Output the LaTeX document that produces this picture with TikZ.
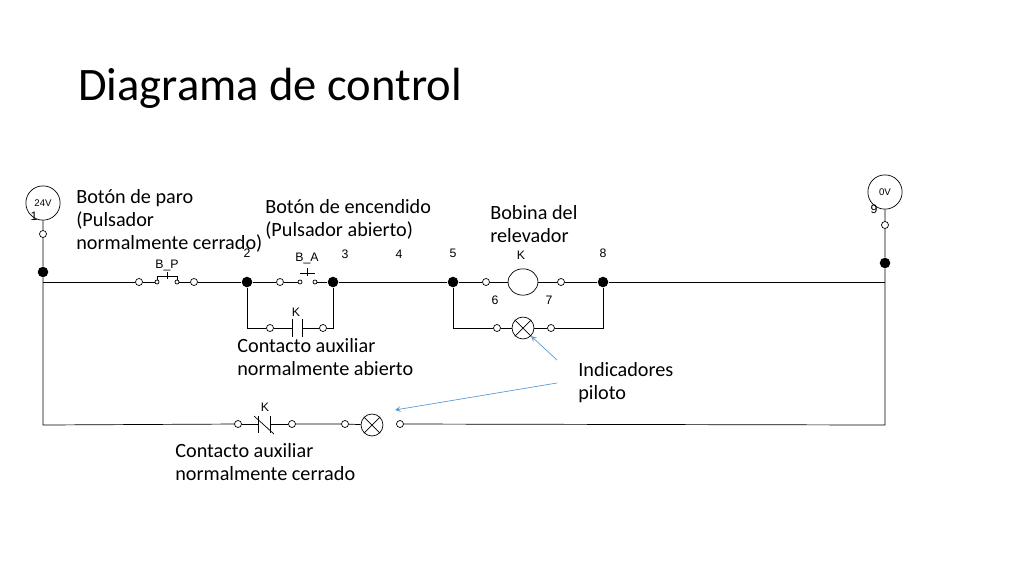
\documentclass[tikz,border=0pt]{standalone}
\usepackage{fontspec}
\setmainfont{Carlito}
\newfontfamily\numfont{Liberation Sans}
\usetikzlibrary{shapes, positioning}

\begin{document}
\begin{tikzpicture}[x=0.02cm, y=-0.02cm, >=stealth]
	\tikzstyle{term} = [draw, circle, minimum size=4pt, inner sep=0pt, line width=0.4pt]
	\tikzstyle{tiny} = [draw, circle, minimum size=2.3pt, inner sep=0pt, line width=0.4pt]
	\tikzstyle{junc} = [fill, circle, minimum size=6pt, inner sep=0pt]
	\tikzstyle{lamp} = [draw, circle, minimum size=12.5pt, inner sep=0pt]
	\tikzstyle{supply} = [draw, circle, minimum size=19.5pt, inner sep=0pt, font=\numfont\fontsize{5.5}{6}\selectfont]
	\tikzstyle{num} = [font=\numfont\fontsize{7}{8}\selectfont, inner sep=1pt]
	\tikzstyle{note} = [align=left, anchor=north west, inner sep=0pt, font=\fontsize{11.5}{13.1}\selectfont]
	\tikzstyle{pointer} = [->, draw={rgb,255:red,91;green,155;blue,213}, thin]

	\useasboundingbox (0,0) rectangle (1024,576);
	\node[anchor=base west, inner sep=0pt, font=\fontsize{26.5}{30}\selectfont] (title) at (78,100) {Diagrama de control};

	% sources
	\node[supply] (src) at (43,203) {24V};
	\node[supply] (gnd) at (885,192) {0V};
	\node[num] at (34,216) {1};
	\node[num] at (874,209) {9};
	\node[term] (t1) at (43,234) {};
	\node[term] (t9) at (885,225) {};
	\node[junc] (jl) at (43,272) {};
	\node[junc] (jr) at (885,263) {};
	\coordinate (ra) at (43,282);
	\coordinate (rb) at (885,282);
	\coordinate (ba) at (43,425);
	\coordinate (bb) at (885,425);

	% rung 1
	\node[term] (p1) at (139,282) {};
	\node[tiny] (p2) at (157,282) {};
	\node[tiny] (p3) at (177,282) {};
	\node[term] (p4) at (194,282) {};
	\node[num] at (167,265) {B\_P};
	\node[junc] (n2) at (247,282) {};
	\node[num] at (247,253) {2};
	\node[term] (a1) at (280,282) {};
	\node[tiny] (a2) at (300,282) {};
	\node[tiny] (a3) at (315,282) {};
	\node[num] at (307,258) {B\_A};
	\node[junc] (n3) at (333,282) {};
	\node[num] at (345,254) {3};
	\node[num] at (399,254) {4};
	\node[term] (k1) at (270,328) {};
	\node[term] (k2) at (323,328) {};
	\node[num] at (296,312) {K};
	\coordinate (c2) at (247,328);
	\coordinate (c3) at (333,328);

	\node[junc] (n5) at (453,282) {};
	\node[num] at (453,253) {5};
	\node[term] (m1) at (486,282) {};
	\node[draw, ellipse, minimum width=17pt, minimum height=15pt, inner sep=0pt] (coil) at (523,282) {};
	\node[term] (m2) at (561,282) {};
	\node[num] at (521,255) {K};
	\node[num] at (495,300) {6};
	\node[num] at (549,300) {7};
	\node[junc] (n8) at (603,282) {};
	\node[num] at (603,253) {8};
	\node[term] (l1) at (497,328) {};
	\node[lamp] (lmp1) at (523,328) {};
	\node[term] (l2) at (551,328) {};
	\coordinate (c5) at (453,328);
	\coordinate (c8) at (603,328);

	% rung 2
	\node[term] (q1) at (238,424) {};
	\node[term] (q2) at (292,424) {};
	\node[num] at (265,407) {K};
	\node[term] (r1) at (345,424) {};
	\node[lamp] (lmp2) at (372,425) {};
	\node[term] (r2) at (400,424) {};

	\draw (src) -- (t1) -- (jl) -- (ba) -- (q1);
	\draw (gnd) -- (t9) -- (jr) -- (bb) -- (r2);
	\draw (ra) -- (p1);
	\draw (p1) -- (p2);
	\draw (p3) -- (p4) -- (n2) -- (a1) -- (a2);
	\draw (a3) -- (n3) -- (n5) -- (m1) -- (coil) -- (m2) -- (n8) -- (rb);
	\draw (n2) -- (c2) -- (k1);
	\draw (k2) -- (c3) -- (n3);
	\draw (n5) -- (c5) -- (l1) -- (lmp1) -- (l2) -- (c8) -- (n8);
	\draw (q2) -- (r1) -- (lmp2);

	% contact symbols
	\draw (p2.north) -- ++(0,-3) -| (p3.north);
	\draw (167,279) -- (167,272);
	\draw (a2.north) ++(0,-6) -- ++(15,0) (307,276) -- (307,268);
	\draw (k1) -- (292,328) (292,319) -- (292,337) (302,319) -- (302,337) (302,328) -- (k2);
	\draw (q1) -- (258,424) (258,416) -- (258,433) (270,416) -- (270,433) (270,424) -- (q2);
	\draw (254,416) -- (274,434);
	\foreach \l in {lmp1, lmp2}
		\draw (\l.north west) -- (\l.south east) (\l.north east) -- (\l.south west);

	% labels
	\node[note] (t_paro) at (76,189) {Botón de paro\\(Pulsador\\normalmente cerrado)};
	\node[note] (t_enc) at (265,199) {Botón de encendido\\(Pulsador abierto)};
	\node[note] (t_bob) at (490,205) {Bobina del\\relevador};
	\node[note] (t_na) at (237,338) {Contacto auxiliar\\normalmente abierto};
	\node[note] (t_ind) at (578,362) {Indicadores\\piloto};
	\node[note] (t_nc) at (175,443) {Contacto auxiliar\\normalmente cerrado};
	\coordinate (arr) at (557,360);
	\coordinate (arr2) at (557,383);
	\draw[pointer] (arr) -- (lmp1.south east);
	\draw[pointer] (arr2) -- (395,410);
\end{tikzpicture}
\end{document}
